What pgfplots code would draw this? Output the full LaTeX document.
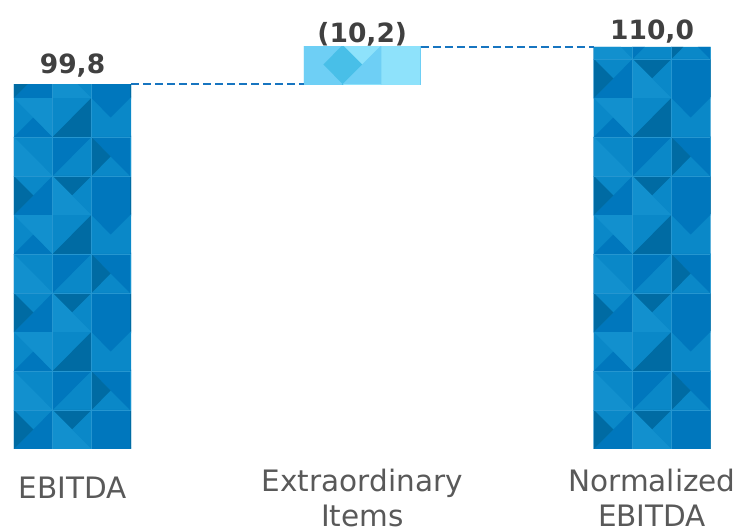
\documentclass[border=0pt]{standalone}
\usepackage{fontspec}
\setmainfont{DejaVu Sans}
\usepackage{pgfplots}
\pgfplotsset{compat=1.18}
\usetikzlibrary{patterns}

\definecolor{bA}{HTML}{0A88C8}
\definecolor{bB}{HTML}{0077BD}
\definecolor{bC}{HTML}{006BA3}
\definecolor{bD}{HTML}{1290CE}
\definecolor{bG}{HTML}{2596D0}
\definecolor{lA}{HTML}{6ECFF5}
\definecolor{lB}{HTML}{8EE2FB}
\definecolor{lC}{HTML}{48BFE8}
\definecolor{dashc}{HTML}{1775C0}
\definecolor{valc}{HTML}{404040}
\definecolor{labc}{HTML}{595959}

% triangle with offset (#7,#8)
\newcommand\trio[8]{%
 \pgfpathmoveto{\pgfpoint{#1pt+#7pt}{#2pt+#8pt}}%
 \pgfpathlineto{\pgfpoint{#3pt+#7pt}{#4pt+#8pt}}%
 \pgfpathlineto{\pgfpoint{#5pt+#7pt}{#6pt+#8pt}}%
 \pgfpathclose}
\newcommand\tri[6]{\trio{#1}{#2}{#3}{#4}{#5}{#6}{14}{81}}
\newcommand\trl[6]{\trio{#1}{#2}{#3}{#4}{#5}{#6}{304}{446}}

\pgfdeclarepatterninherentlycolored{bluetri}
 {\pgfqpoint{14pt}{81pt}}{\pgfqpoint{130pt}{198pt}}{\pgfqpoint{116pt}{117pt}}
 {%
 \pgfsetfillcolor{bA}%
 \pgfpathrectangle{\pgfqpoint{14pt}{81pt}}{\pgfqpoint{116pt}{117pt}}\pgfusepath{fill}%
 \pgfsetfillcolor{bB}%
 \tri{0}{0}{38.67}{0}{38.67}{39}%
 \tri{77.33}{0}{116}{39}{77.33}{39}%
 \tri{38.67}{39}{77.33}{78}{38.67}{78}%
 \tri{116}{39}{116}{78}{77.33}{78}%
 \tri{0}{78}{38.67}{78}{19.33}{97.5}%
 \tri{77.33}{117}{116}{117}{96.67}{97.5}%
 \tri{77.33}{0}{116}{0}{116}{39}%
 \pgfusepath{fill}%
 \pgfsetfillcolor{bC}%
 \tri{0}{0}{19.33}{19.5}{0}{39}%
 \tri{38.67}{39}{58}{19.5}{77.33}{39}%
 \tri{77.33}{39}{96.67}{58.5}{77.33}{78}%
 \tri{38.67}{78}{77.33}{117}{77.33}{78}%
 \pgfusepath{fill}%
 \pgfsetfillcolor{bD}%
 \tri{38.67}{0}{77.33}{0}{38.67}{39}%
 \tri{0}{39}{38.67}{39}{0}{78}%
 \tri{0}{117}{38.67}{117}{38.67}{78}%
 \pgfusepath{fill}%
 \pgfsetstrokecolor{bG}\pgfsetlinewidth{0.6pt}%
 \pgfpathmoveto{\pgfqpoint{52.67pt}{81pt}}\pgfpathlineto{\pgfqpoint{52.67pt}{198pt}}%
 \pgfpathmoveto{\pgfqpoint{91.33pt}{81pt}}\pgfpathlineto{\pgfqpoint{91.33pt}{198pt}}%
 \pgfpathmoveto{\pgfqpoint{14pt}{120pt}}\pgfpathlineto{\pgfqpoint{130pt}{120pt}}%
 \pgfpathmoveto{\pgfqpoint{14pt}{159pt}}\pgfpathlineto{\pgfqpoint{130pt}{159pt}}%
 \pgfusepath{stroke}%
 }

\pgfdeclarepatterninherentlycolored{lighttri}
 {\pgfqpoint{304pt}{446pt}}{\pgfqpoint{420pt}{485pt}}{\pgfqpoint{116pt}{39pt}}
 {%
 \pgfsetfillcolor{lA}%
 \pgfpathrectangle{\pgfqpoint{304pt}{446pt}}{\pgfqpoint{116pt}{39pt}}\pgfusepath{fill}%
 \pgfsetfillcolor{lB}%
 \pgfpathrectangle{\pgfqpoint{381.33pt}{446pt}}{\pgfqpoint{38.67pt}{39pt}}%
 \trl{38.67}{39}{58}{19.5}{77.33}{39}%
 \pgfusepath{fill}%
 \pgfsetfillcolor{lC}%
 \pgfpathmoveto{\pgfqpoint{323.33pt}{465.5pt}}%
 \pgfpathlineto{\pgfqpoint{342.67pt}{485pt}}%
 \pgfpathlineto{\pgfqpoint{362pt}{465.5pt}}%
 \pgfpathlineto{\pgfqpoint{342.67pt}{446pt}}%
 \pgfpathclose\pgfusepath{fill}%
 }

\pgfplotstableread{
x base main extra
0 0    99.8  0
1 99.8 0     10.2
2 0    110.0 0
}\waterfall

\begin{document}
\begin{tikzpicture}
\pgfplotsset{
  common/.style={
    at={(0pt,81pt)}, anchor=south west,
    width=752pt, height=449pt, scale only axis,
    xmin=-0.2502, xmax=2.345, ymin=0, ymax=122.8,
    enlargelimits=false, clip=false,
    axis line style={draw=none}, tick style={draw=none},
    major tick length=0pt, ytick=\empty,
  }
}
\begin{axis}[common,
  ybar stacked, bar width=117pt,
  xtick={0,1,2},
  xticklabels={\raisebox{0pt}[29.4pt]{EBITDA},Extraordinary\\Items,Normalized\\EBITDA},
  xticklabel style={align=center, anchor=north, inner sep=0pt, yshift=-19.6pt,
    text depth=0pt, font=\fontsize{29.5}{35}\selectfont, text=labc},
]
\addplot[draw=none, fill=none] table[x=x, y=base] {\waterfall};
\addplot[draw=none, pattern=bluetri] table[x=x, y=main] {\waterfall};
\addplot[draw=none, pattern=lighttri] table[x=x, y=extra] {\waterfall};
\end{axis}
\begin{axis}[common, xtick=\empty]
\addplot[dashc, line width=2.5pt, dash pattern=on 8pt off 4pt] coordinates {(0.2019,99.8) (0.7981,99.8)};
\addplot[dashc, line width=2.5pt, dash pattern=on 8pt off 4pt] coordinates {(1.2019,110.0) (1.7981,110.0)};
\node[anchor=base, text=valc, font=\bfseries\fontsize{26.5}{30}\selectfont, yshift=10.5pt] at (axis cs:0,99.8) {99,8};
\node[anchor=base, text=valc, font=\bfseries\fontsize{26.5}{30}\selectfont, yshift=4.5pt] at (axis cs:1,110.0) {(10,2)};
\node[anchor=base, text=valc, font=\bfseries\fontsize{26.5}{30}\selectfont, yshift=7.4pt] at (axis cs:2,110.0) {110,0};
\end{axis}
\pgfresetboundingbox
\useasboundingbox (0,0) rectangle (752pt,530pt);
\end{tikzpicture}
\end{document}
